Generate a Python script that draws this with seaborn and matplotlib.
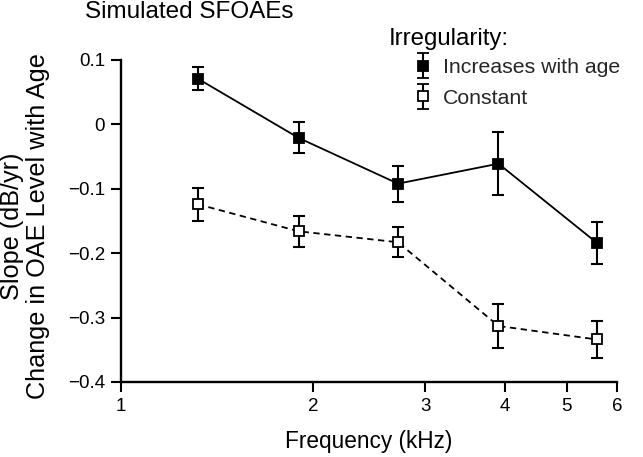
import numpy as np
import pandas as pd
import matplotlib
matplotlib.use("Agg")
import matplotlib.pyplot as plt
from matplotlib.legend_handler import HandlerErrorbar
import seaborn as sns

# -------- data --------
freq_khz = [1.32, 1.90, 2.72, 3.91, 5.58]
slope_increase = [0.071, -0.021, -0.092, -0.061, -0.184]
err_increase = [0.018, 0.024, 0.028, 0.049, 0.032]
slope_constant = [-0.124, -0.166, -0.183, -0.313, -0.334]
err_constant = [0.026, 0.024, 0.023, 0.034, 0.029]
series_names = ["Increases with age", "Constant"]

x_ticks = [1, 2, 3, 4, 5, 6]
y_ticks = [-0.4, -0.3, -0.2, -0.1, 0, 0.1]
y_ticklabels = ["\u22120.4", "\u22120.3", "\u22120.2", "\u22120.1", "0", "0.1"]

df = pd.DataFrame({
    "freq": freq_khz * 2,
    "slope": slope_increase + slope_constant,
    "err": err_increase + err_constant,
    "group": [series_names[0]] * len(freq_khz) + [series_names[1]] * len(freq_khz),
})

# -------- style --------
sns.set_theme(style="ticks")
plt.rcParams["font.family"] = ["Liberation Sans", "DejaVu Sans"]

fig = plt.figure(figsize=(6.43, 4.57), dpi=100)
ax = fig.add_axes([121 / 643, 1 - 382 / 457, 496 / 643, 322 / 457])

styles = {
    series_names[0]: dict(ls="-", mfc="black"),
    series_names[1]: dict(ls=(0, (3.5, 2.5)), mfc="white"),
}

handles = []
for name in series_names:
    sub = df[df["group"] == name]
    st = styles[name]
    sns.lineplot(data=sub, x="freq", y="slope", ax=ax, color="black",
                 linewidth=1.3, linestyle=st["ls"], marker="s", markersize=6.5,
                 markerfacecolor=st["mfc"], markeredgecolor="black",
                 markeredgewidth=1.3, legend=False, zorder=3)
    ax.errorbar(sub["freq"], sub["slope"], yerr=sub["err"], fmt="none",
                ecolor="black", elinewidth=1.5, capsize=4, capthick=1.5, zorder=2)
    # legend proxy (no data drawn)
    h = ax.errorbar([np.nan], [np.nan], yerr=[np.nan], fmt="s", color="black",
                    mfc=st["mfc"], mec="black", mew=1.3, markersize=6.5,
                    elinewidth=1.5, capsize=4, capthick=1.5)
    handles.append(h)

ax.set_xscale("log")
ax.set_xlim(1, 6)
ax.set_ylim(-0.4, 0.1)
ax.set_xticks(x_ticks)
ax.set_xticklabels([str(t) for t in x_ticks])
ax.xaxis.set_minor_locator(matplotlib.ticker.NullLocator())
ax.set_yticks(y_ticks)
ax.set_yticklabels(y_ticklabels)

ax.tick_params(axis="both", which="major", labelsize=13.5, length=7.5,
               width=1.5, pad=4, color="black", labelcolor="black")
for side in ["left", "bottom"]:
    ax.spines[side].set_linewidth(1.7)
    ax.spines[side].set_color("black")
sns.despine(ax=ax)

ax.set_xlabel("Frequency (kHz)", fontsize=16.3, labelpad=11, color="black")
ax.set_ylabel("Slope (dB/yr)\nChange in OAE Level with Age", fontsize=18.2,
              color="black", linespacing=1.1)
ax.yaxis.set_label_coords(-0.143, 0.485)

fig.text(85 / 643, 1 - 18 / 457, "Simulated SFOAEs", fontsize=17.5,
         ha="left", va="baseline", color="black")
fig.text(389 / 643, 1 - 45 / 457, "Irregularity:", fontsize=17.3,
         ha="left", va="baseline", color="black")

leg = ax.legend(handles, series_names, loc="upper left",
                bbox_to_anchor=(415 / 643, 1 - 58 / 457),
                bbox_transform=fig.transFigure, frameon=False, fontsize=15.3,
                handlelength=0.8, handletextpad=0.5, borderpad=0,
                borderaxespad=0, labelspacing=0.55,
                handler_map={type(handles[0]): HandlerErrorbar(yerr_size=0.6)})

fig.savefig("out.png", dpi=100)
